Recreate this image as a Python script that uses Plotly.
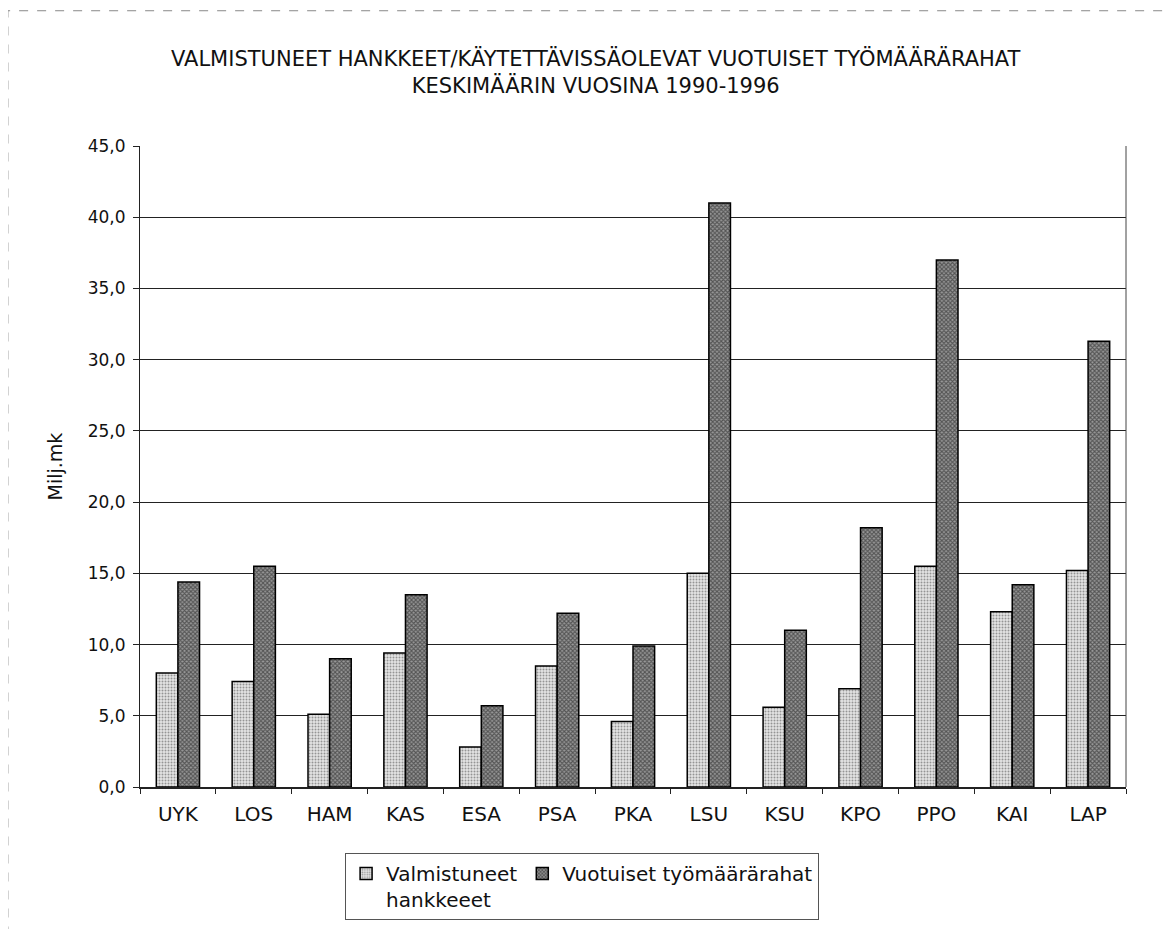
import plotly.graph_objects as go

categories = ["UYK", "LOS", "HAM", "KAS", "ESA", "PSA", "PKA", "LSU", "KSU", "KPO", "PPO", "KAI", "LAP"]
valmistuneet = [8.0, 7.4, 5.1, 9.4, 2.8, 8.5, 4.6, 15.0, 5.6, 6.9, 15.5, 12.3, 15.2]
tyomaararahat = [14.4, 15.5, 9.0, 13.5, 5.7, 12.2, 9.9, 41.0, 11.0, 18.2, 37.0, 14.2, 31.3]
y_ticks = [0, 5, 10, 15, 20, 25, 30, 35, 40, 45]

FONT = "DejaVu Sans, Liberation Sans, Arial, sans-serif"
TXT = "#111"

fig = go.Figure()
fig.add_trace(go.Bar(
    x=categories, y=valmistuneet, name="Valmistuneet<br>hankkeeet",
    marker=dict(color="#e4e4e4", line=dict(color="black", width=1.5),
                pattern=dict(shape=".", size=3, solidity=0.35, fgcolor="#444", bgcolor="#e4e4e4")),
))
fig.add_trace(go.Bar(
    x=categories, y=tyomaararahat, name="Vuotuiset työmäärärahat",
    marker=dict(color="#999", line=dict(color="black", width=1.5),
                pattern=dict(shape="x", size=3, solidity=0.6, fgcolor="#111", bgcolor="#999")),
))

fig.update_layout(
    width=1167, height=921,
    margin=dict(l=132, r=49, t=138, b=142, autoexpand=False),
    paper_bgcolor="white", plot_bgcolor="white",
    font=dict(family=FONT, size=18, color=TXT),
    separators=", ",
    barmode="group", bargap=0.43, bargroupgap=0,
    showlegend=True,
    legend=dict(
        orientation="h", x=0.208, y=-0.103, xanchor="left", yanchor="top",
        bordercolor="#555", borderwidth=1, bgcolor="white",
        valign="top",
        font=dict(family=FONT, size=20, color=TXT),
        traceorder="normal", itemwidth=30,
    ),
    annotations=[
        dict(text="VALMISTUNEET HANKKEET/KÄYTETTÄVISSÄOLEVAT VUOTUISET TYÖMÄÄRÄRAHAT<br>KESKIMÄÄRIN VUOSINA 1990-1996",
             xref="paper", yref="paper", x=0.4625, y=1.116, xanchor="center", yanchor="middle",
             showarrow=False, font=dict(family=FONT, size=21, color=TXT), align="center"),
    ],
    shapes=[
        dict(type="rect", xref="paper", yref="paper", x0=-0.134, x1=1.06, y0=-0.23, y1=1.211,
             line=dict(color="#888", width=1, dash="dash"), layer="below"),
        dict(type="line", xref="paper", yref="paper", x0=1, x1=1, y0=0, y1=1,
             line=dict(color="#444", width=1)),
    ],
)

fig.update_yaxes(
    range=[0, 45], tickvals=y_ticks, tickformat=".1f",
    showgrid=True, gridcolor="#222", gridwidth=1,
    showline=True, linecolor="#222", linewidth=1, mirror=False,
    ticks="outside", ticklen=6, tickcolor="#222", ticklabelstandoff=4,
    tickfont=dict(family=FONT, size=17, color=TXT),
    title=dict(text="Milj.mk", font=dict(family=FONT, size=19, color=TXT), standoff=20),
    zeroline=False,
)
fig.update_xaxes(
    showline=True, linecolor="#222", linewidth=1.5,
    ticks="outside", ticklen=5, tickcolor="#222", tickson="boundaries",
    ticklabelstandoff=8,
    tickfont=dict(family=FONT, size=20, color=TXT),
    showgrid=False,
)

fig.write_html("out.html")
